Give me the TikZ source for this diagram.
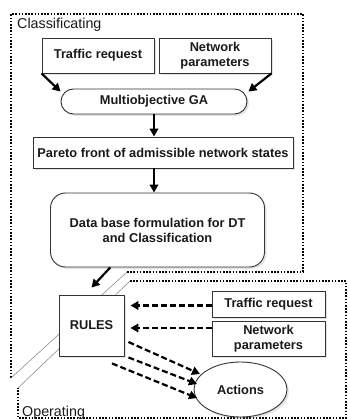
\documentclass[tikz,border=0pt]{standalone}
\usepackage{fontspec}
\setmainfont{Liberation Sans}
\usetikzlibrary{shapes.geometric,arrows.meta,shadows,calc}
\definecolor{boxline}{HTML}{333333}
\definecolor{txt}{HTML}{1A1A1A}
\tikzset{
  boxtext/.style={font=\fontsize{12.8}{15}\selectfont\bfseries, text=txt, align=center, inner sep=0pt},
  sbox/.style={boxtext, draw=boxline, line width=0.9pt, fill=white,
     drop shadow={shadow xshift=2pt, shadow yshift=-2pt, opacity=0.22}},
  regionline/.style={line width=2pt, dash pattern=on 1.6pt off 1.6pt, black},
  splitline/.style={line width=0.5pt, gray},
  arr/.style={line width=2.2pt, -{Triangle[length=8pt,width=8.5pt]}, black},
  darr/.style={arr, dash pattern=on 6pt off 3pt},
  regionlabel/.style={font=\fontsize{14.3}{16}\selectfont, text=txt, inner sep=0pt, anchor=base west},
}
\begin{document}
\begin{tikzpicture}[x=1pt,y=-1pt]
\useasboundingbox (0,0) rectangle (347,419);
\fill[white] (0,0) rectangle (347,419);

% regions
\coordinate (c1) at (11,14);
\coordinate (c2) at (303,14);
\coordinate (c3) at (303,272);
\coordinate (c4) at (127,272);
\coordinate (c5) at (11,378);
\draw[regionline] (c4) -- (c3) -- (c2) -- (c1) -- (c5);
\draw[splitline] (c5) -- (c4);

\coordinate (o1) at (130,281);
\coordinate (o2) at (346,281);
\coordinate (o3) at (346,418);
\coordinate (o4) at (18,418);
\coordinate (o5) at (18,388);
\draw[regionline] (o1) -- (o2) -- (o3) -- (o4) -- (o5);
\draw[splitline] (o5) -- (o1);

\node[regionlabel] (lc) at (17,29) {Classificating};
\node[regionlabel] (lo) at (22,416) {Operating};

% classificating nodes
\node[sbox, minimum width=112pt, minimum height=35pt] (tr1) at (98,55.5) {Traffic request};
\node[sbox, minimum width=112pt, minimum height=35pt] (np1) at (215,55.5) {Network\\parameters};
\node[sbox, minimum width=186pt, minimum height=25pt, rounded corners=12.5pt] (ga) at (154,101.5) {Multiobjective GA};
\node[sbox, minimum width=260pt, minimum height=31pt] (pf) at (163,152.5) {Pareto front of admissible network states};
\node[sbox, minimum width=214pt, minimum height=74pt, rounded corners=15pt] (db) at (157.5,230) {Data base formulation for DT\\and Classification};

% operating nodes
\node[sbox, minimum width=65pt, minimum height=61pt] (rules) at (91.5,325.5) {RULES};
\node[sbox, minimum width=113pt, minimum height=26pt] (tr2) at (268.5,304) {Traffic request};
\node[sbox, minimum width=113pt, minimum height=35pt] (np2) at (268.5,338.5) {Network\\parameters};
\node[sbox, ellipse, minimum width=93pt, minimum height=55pt] (act) at (240.5,389.5) {Actions};

% arrows
\draw[arr] (tr1.south west) -- ([yshift=-3pt]ga.north west);
\draw[arr] (np1.south east) -- ([yshift=-3pt,xshift=1pt]ga.north east);
\draw[arr] (ga.south) -- (ga.south |- pf.north);
\draw[arr] (ga.south |- pf.south) -- (ga.south |- db.north);
\draw[arr] ($(db.south west)!0.28!(db.south east)$) -- ([yshift=7pt]rules.north);

\draw[darr] ([yshift=-1.5pt]tr2.west) -- ([xshift=6pt,yshift=-1.5pt]tr2.west -| rules.east);
\draw[darr] ([yshift=10.5pt]np2.west) -- ([xshift=6pt,yshift=10.5pt]np2.west -| rules.east);

\draw[darr] ([xshift=4pt,yshift=-16.5pt]rules.east) -- ([xshift=-40.5pt,yshift=15.5pt]act.center);
\draw[darr] ([xshift=4pt,yshift=-1pt]rules.south east) -- ([xshift=-43.5pt,yshift=5.5pt]act.center);
\draw[darr] ([xshift=20.5pt,yshift=-7pt]rules.south) -- ([xshift=-43.5pt,yshift=-8.5pt]act.center);
\end{tikzpicture}
\end{document}
